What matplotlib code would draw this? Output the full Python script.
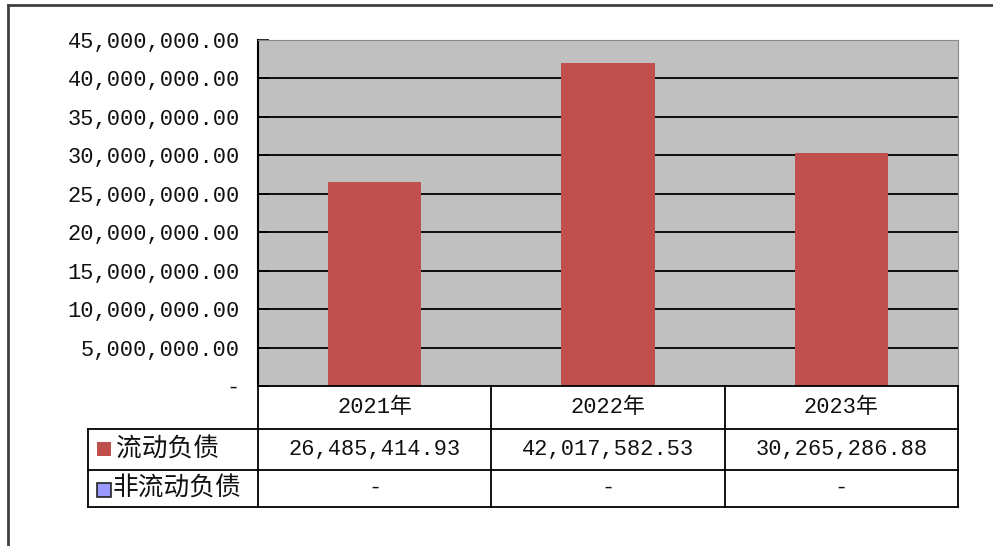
import matplotlib
matplotlib.use("Agg")
import matplotlib.pyplot as plt
from matplotlib.lines import Line2D
from matplotlib.patches import Rectangle
import matplotlib.transforms as mtransforms

categories = ["2021年", "2022年", "2023年"]
series_names = ["流动负债", "非流动负债"]
current_liab = [26485414.93, 42017582.53, 30265286.88]
noncurrent_liab = [None, None, None]
yticks = [0, 5e6, 10e6, 15e6, 20e6, 25e6, 30e6, 35e6, 40e6, 45e6]

W, H = 993, 546
fig = plt.figure(figsize=(W / 100, H / 100), dpi=100)
fig.patch.set_facecolor("white")

def fx(px):
    return px / W

def fy(py):
    return 1 - py / H

# plot area
ax_l, ax_r, ax_t, ax_b = 258, 958, 40, 386
ax = fig.add_axes([fx(ax_l), fy(ax_b), fx(ax_r - ax_l), (ax_b - ax_t) / H])
ax.set_facecolor("#C0C0C0")
x = list(range(len(categories)))
ax.bar(x, current_liab, width=0.4, color="#C0504D", zorder=3)
ax.set_xlim(-0.5, len(categories) - 0.5)
ax.set_ylim(0, 45e6)
ax.set_yticks(yticks)

def fmt(v):
    return "-" if v == 0 else f"{v:,.2f}"

mono = ["Liberation Mono", "Noto Sans CJK SC"]
ax.set_yticklabels([fmt(v) for v in yticks], fontfamily=mono, fontsize=15.8, color="#111111")
ax.tick_params(axis="y", direction="in", length=8, width=1.2, color="black", pad=13)
ax.set_xticks([])
for yv in yticks[1:-1]:
    ax.axhline(yv, color="black", lw=1.3, zorder=2)
ax.spines["left"].set_color("black")
ax.spines["left"].set_linewidth(1.5)
ax.spines["top"].set_color("#8a8a8a")
ax.spines["right"].set_color("#8a8a8a")
ax.spines["bottom"].set_visible(False)

# table
blend = mtransforms.blended_transform_factory(ax.transData, fig.transFigure)
rows_y = [386, 429, 470, 507]
leg_l = 88

def hline(y, x0, x1):
    fig.add_artist(Line2D([fx(x0), fx(x1)], [fy(y), fy(y)], color="black", lw=1.3, transform=fig.transFigure))

def vline_fig(xp, y0, y1):
    fig.add_artist(Line2D([fx(xp), fx(xp)], [fy(y0), fy(y1)], color="black", lw=1.3, transform=fig.transFigure))

hline(rows_y[0], ax_l, ax_r)
for yy in rows_y[1:]:
    hline(yy, leg_l, ax_r)
vline_fig(leg_l, rows_y[1], rows_y[3])
vline_fig(ax_l, rows_y[0], rows_y[3])
vline_fig(ax_r, rows_y[0], rows_y[3])
for b in [i + 0.5 for i in range(len(categories) - 1)]:
    fig.add_artist(Line2D([b, b], [fy(rows_y[0]), fy(rows_y[3])], color="black", lw=1.3, transform=blend))

def rc(i):
    return fy((rows_y[i] + rows_y[i + 1]) / 2)

for i, c in enumerate(categories):
    fig.text(0, 0, c, transform=blend, fontfamily=mono, fontsize=15.8, color="#111111",
             ha="center", va="center").set_position((i, rc(0)))
    fig.text(0, 0, fmt(current_liab[i]), transform=blend, fontfamily=mono, fontsize=15.8,
             color="#111111", ha="center", va="center").set_position((i, rc(1)))
    v = noncurrent_liab[i]
    fig.text(0, 0, "-" if v is None else fmt(v), transform=blend, fontfamily=mono, fontsize=15.8,
             color="#111111", ha="center", va="center").set_position((i, rc(2)))

# legend cells
fig.add_artist(Rectangle((fx(97), fy(456)), fx(14), 14 / H, facecolor="#C0504D",
                         edgecolor="none", transform=fig.transFigure))
fig.add_artist(Rectangle((fx(97), fy(497)), fx(14), 14 / H, facecolor="#9999FF",
                         edgecolor="#222222", lw=1.2, transform=fig.transFigure))
fig.text(fx(116), rc(1), series_names[0], fontfamily=["Noto Sans CJK SC"], fontsize=18.5,
         color="#111111", ha="left", va="center")
fig.text(fx(113), rc(2), series_names[1], fontfamily=["Noto Sans CJK SC"], fontsize=18.5,
         color="#111111", ha="left", va="center")

# outer border (top and left)
fig.add_artist(Line2D([fx(8), fx(993)], [fy(5), fy(5)], color="#404040", lw=2, transform=fig.transFigure))
fig.add_artist(Line2D([fx(8), fx(8)], [fy(5), fy(546)], color="#404040", lw=2, transform=fig.transFigure))

fig.savefig("out.png", dpi=100)
